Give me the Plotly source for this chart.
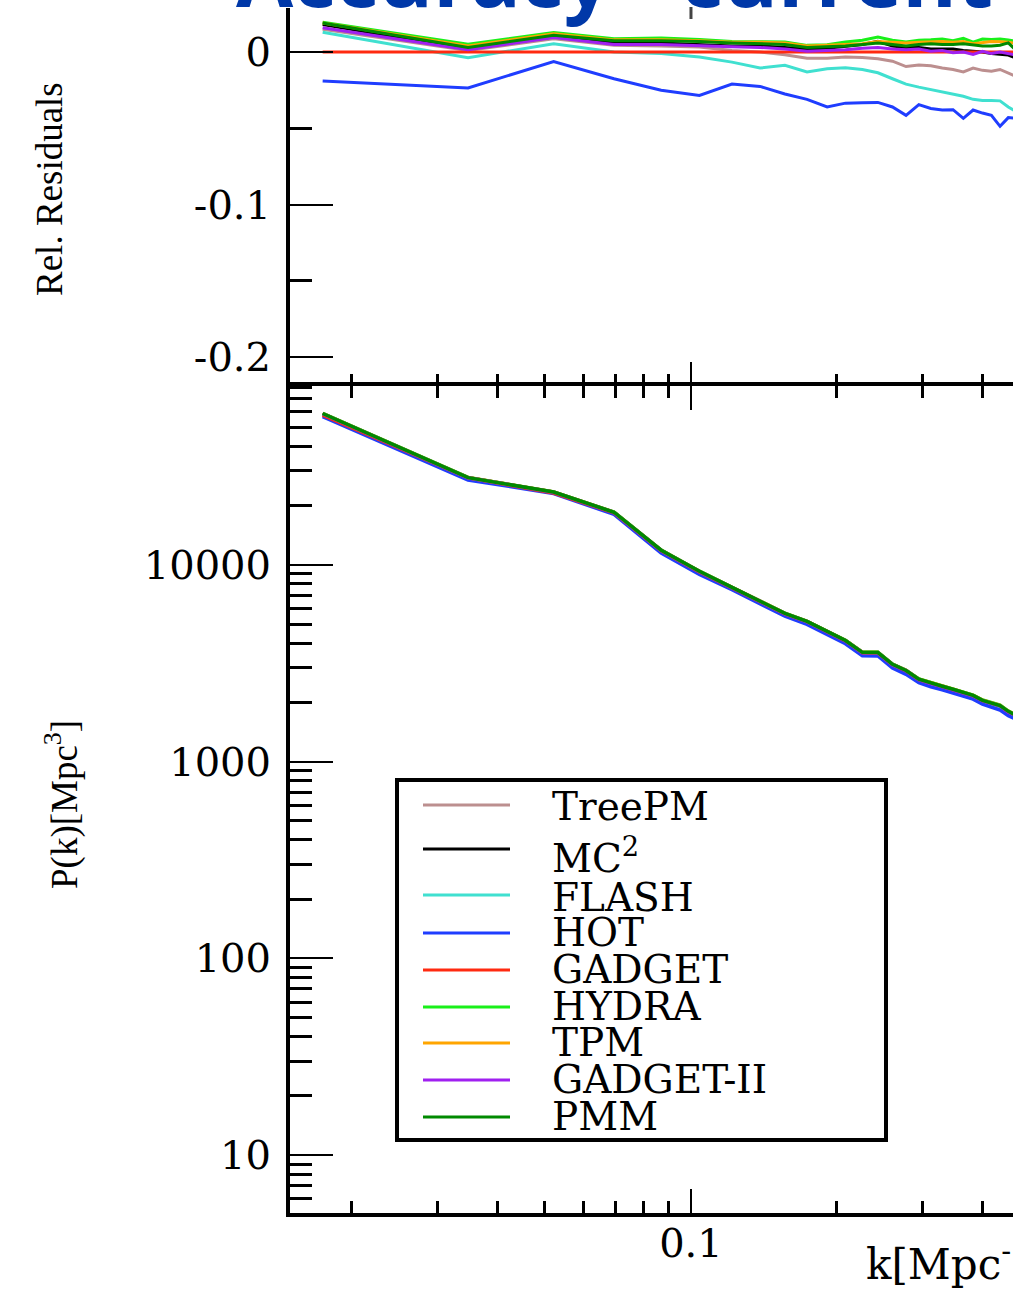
import math
import plotly.graph_objects as go

# ---------------- data ----------------
k_vals = [0.0174, 0.0347, 0.0521, 0.0694, 0.0868, 0.1041, 0.1215, 0.1388, 0.1562,
          0.1735, 0.1909, 0.2082, 0.2256, 0.2429, 0.2603, 0.2776, 0.2950, 0.3123,
          0.3297, 0.3470, 0.3644, 0.3817, 0.3991, 0.4164, 0.4338, 0.4511, 0.4685]

pk_gadget = [57700, 27660, 23190, 18370, 11780, 9210, 7640, 6490, 5640, 5140, 4570,
             4110, 3575, 3560, 3105, 2895, 2610, 2490, 2405, 2320, 2240, 2160, 2040,
             1970, 1920, 1790, 1715]

res_treepm = [0.015, 0.001, 0.0087, 0.0044, 0.004, 0.0033, 0.001, 0.0, -0.0017, -0.004,
              -0.004, -0.0033, -0.0035, -0.0044, -0.006, -0.0095, -0.0085, -0.009, -0.0105,
              -0.0115, -0.013, -0.0105, -0.012, -0.0125, -0.0114, -0.0135, -0.016]
res_mc2 = [0.018, 0.002, 0.010, 0.006, 0.006, 0.005, 0.004, 0.004, 0.003, 0.002, 0.0025,
           0.004, 0.005, 0.007, 0.004, 0.003, 0.003, 0.002, 0.002, 0.002, 0.001, 0.0005,
           0.0, -0.001, -0.0015, -0.002, -0.004]
res_flash = [0.013, -0.0037, 0.0055, 0.0, -0.001, -0.0033, -0.0066, -0.0105, -0.0087,
             -0.013, -0.011, -0.0103, -0.0114, -0.0136, -0.0175, -0.021, -0.023, -0.0245,
             -0.026, -0.0275, -0.029, -0.031, -0.0317, -0.0317, -0.032, -0.036, -0.039]
res_hot = [-0.019, -0.0236, -0.0062, -0.0175, -0.025, -0.0285, -0.021, -0.0225, -0.0275,
           -0.031, -0.036, -0.0335, -0.0333, -0.033, -0.036, -0.0415, -0.0345, -0.037,
           -0.038, -0.0378, -0.0435, -0.038, -0.040, -0.0415, -0.0487, -0.043, -0.0435]
res_gadget = [0.0, 0.0, 0.0, 0.0, 0.0, 0.0, 0.0, 0.0, 0.0, 0.0, 0.0, 0.0, 0.0, 0.0,
              0.0, 0.0, 0.0, 0.0, 0.0, 0.0, 0.0, 0.0, 0.0, 0.0, 0.0, 0.0, 0.0]
res_hydra = [0.0195, 0.0052, 0.0128, 0.0088, 0.0092, 0.0083, 0.007, 0.007, 0.0066, 0.0044,
             0.0048, 0.0066, 0.0077, 0.0098, 0.0077, 0.0066, 0.0077, 0.008, 0.0085, 0.0075,
             0.009, 0.0065, 0.0085, 0.0082, 0.0085, 0.008, 0.007]
res_tpm = [0.019, 0.004, 0.012, 0.008, 0.008, 0.0075, 0.0065, 0.0065, 0.006, 0.004, 0.0045,
           0.005, 0.0055, 0.007, 0.0065, 0.006, 0.0065, 0.007, 0.007, 0.0065, 0.007, 0.0055,
           0.0065, 0.007, 0.0068, 0.0065, 0.0055]
res_gadget2 = [0.016, 0.0015, 0.0095, 0.005, 0.005, 0.004, 0.0035, 0.003, 0.002, 0.0005,
               0.001, 0.0015, 0.0025, 0.003, 0.002, 0.0015, 0.002, 0.0005, 0.001, -0.0005,
               0.0, -0.0015, 0.0005, -0.001, 0.0, -0.001, -0.002]
res_pmm = [0.019, 0.003, 0.011, 0.0075, 0.0075, 0.007, 0.006, 0.0055, 0.005, 0.003, 0.0035,
           0.004, 0.005, 0.006, 0.005, 0.004, 0.005, 0.0055, 0.005, 0.005, 0.0055, 0.0045,
           0.004, 0.004, 0.0045, 0.006, 0.001]

code_names = ["TreePM", "MC2", "FLASH", "HOT", "GADGET", "HYDRA", "TPM", "GADGET-II", "PMM"]
legend_labels = ["TreePM", "MC<sup>2</sup>", "FLASH", "HOT", "GADGET", "HYDRA", "TPM",
                 "GADGET-II", "PMM"]
residuals = [res_treepm, res_mc2, res_flash, res_hot, res_gadget, res_hydra, res_tpm,
             res_gadget2, res_pmm]
colors = ["#bc8f8f", "#000000", "#40e0d0", "#1f3dff", "#ff2a10", "#19f019", "#ffa500",
          "#a020f0", "#008a00"]

y_tick_vals_top = [0, -0.1, -0.2]
y_tick_text_top = ["0", "-0.1", "-0.2"]
y_minor_top = [-0.05, -0.15]
y_tick_vals_bot = [10, 100, 1000, 10000]
y_tick_text_bot = ["10", "100", "1000", "10000"]
y_minor_bot = [6, 7, 8, 9, 20, 30, 40, 50, 60, 70, 80, 90, 200, 300, 400, 500, 600, 700,
               800, 900, 2000, 3000, 4000, 5000, 6000, 7000, 8000, 9000, 20000, 30000,
               40000, 50000, 60000, 70000, 80000]
x_tick_vals = [0.1]
x_tick_text = ["0.1"]
x_minor = [0.02, 0.03, 0.04, 0.05, 0.06, 0.07, 0.08, 0.09, 0.2, 0.3, 0.4]

# ---------------- geometry ----------------
W, H = 1013, 1290
def px_x(p):
    return p / W
def px_y(p):
    return 1 - p / H

x_dom = [px_x(290), 1.0]
x_range = [-1.8268, -0.336]
ybot_dom = [px_y(1213), px_y(386)]
ytop_dom = [px_y(386), px_y(8)]

serif_tick = dict(family="DejaVu Serif", size=40, color="black")

fig = go.Figure()

for name, res, col in zip(code_names, residuals, colors):
    pk = [p * (1 + r) for p, r in zip(pk_gadget, res)]
    fig.add_trace(go.Scatter(x=k_vals, y=pk, mode="lines", name=name,
                             line=dict(color=col, width=3.5), xaxis="x", yaxis="y",
                             showlegend=False))
for name, res, col in zip(code_names, residuals, colors):
    fig.add_trace(go.Scatter(x=k_vals, y=res, mode="lines", name=name,
                             line=dict(color=col, width=3), xaxis="x2", yaxis="y2",
                             showlegend=False))

common_x = dict(type="log", range=x_range, domain=x_dom, linewidth=4,
                linecolor="black", ticks="inside", ticklen=24, tickwidth=2,
                tickcolor="black", tickvals=x_tick_vals, ticktext=x_tick_text,
                showgrid=False, zeroline=False,
                minor=dict(tickvals=x_minor, ticks="inside", ticklen=12, tickwidth=2.5,
                           tickcolor="black", showgrid=False))

fig.update_layout(
    width=W, height=H,
    margin=dict(l=0, r=0, t=0, b=0),
    paper_bgcolor="white", plot_bgcolor="white",
    showlegend=False,
    xaxis=dict(common_x, anchor="y", showline=True, mirror="ticks", tickfont=serif_tick,
               ticklabelstandoff=-8),
    xaxis2=dict(common_x, anchor="y2", matches="x", showline=False, showticklabels=False),
    yaxis=dict(type="log", range=[math.log10(5.08), 4.909], domain=ybot_dom, anchor="x",
               showline=True, linewidth=4, linecolor="black", ticks="inside", ticklen=43,
               tickwidth=2, tickcolor="black", tickvals=y_tick_vals_bot,
               ticktext=y_tick_text_bot, tickfont=serif_tick, ticklabelstandoff=7,
               showgrid=False, zeroline=False,
               minor=dict(tickvals=y_minor_bot, ticks="inside", ticklen=22, tickwidth=3,
                          tickcolor="black", showgrid=False)),
    yaxis2=dict(range=[-0.219, 0.0289], domain=ytop_dom, anchor="x2",
                showline=True, linewidth=4, linecolor="black", ticks="inside", ticklen=43,
                tickwidth=2, tickcolor="black", tickvals=y_tick_vals_top,
                ticktext=y_tick_text_top, tickfont=serif_tick, ticklabelstandoff=7,
                showgrid=False, zeroline=False,
                minor=dict(tickvals=y_minor_top, ticks="inside", ticklen=22, tickwidth=3,
                           tickcolor="black", showgrid=False)),
)

shapes = []
annotations = []

# small mirrored tick of the upper panel at k = 0.1 (partly hidden by the title)
tick_xp = x_dom[0] + (math.log10(0.1) - x_range[0]) / (x_range[1] - x_range[0]) * (x_dom[1] - x_dom[0])
shapes.append(dict(type="line", xref="paper", yref="paper", x0=tick_xp, x1=tick_xp,
                   y0=px_y(7), y1=px_y(19), line=dict(color="#444", width=3)))

# legend box
shapes.append(dict(type="rect", xref="paper", yref="paper", x0=px_x(397), x1=px_x(886),
                   y0=px_y(1140), y1=px_y(780), line=dict(color="black", width=4),
                   fillcolor="white", layer="above"))
row_line_y = [805, 849, 895, 933, 970, 1007, 1043, 1080, 1117]
row_text_y = [806, 856, 897, 932, 969, 1006, 1042, 1079, 1116]
for lab, col, ly, ty in zip(legend_labels, colors, row_line_y, row_text_y):
    shapes.append(dict(type="line", xref="paper", yref="paper", x0=px_x(423), x1=px_x(510),
                       y0=px_y(ly), y1=px_y(ly), line=dict(color=col, width=3), layer="above"))
    annotations.append(dict(text=lab, xref="paper", yref="paper", x=px_x(550), y=px_y(ty),
                            xanchor="left", yanchor="middle", showarrow=False,
                            font=dict(family="DejaVu Serif", size=39, color="black")))

# axis titles
annotations.append(dict(text="Rel. Residuals", xref="paper", yref="paper", x=px_x(50),
                        y=px_y(189), textangle=-90, showarrow=False, xanchor="center",
                        yanchor="middle",
                        font=dict(family="Liberation Serif", size=37, color="black")))
annotations.append(dict(text="P(k)[Mpc<sup>3</sup>]", xref="paper", yref="paper", x=px_x(62),
                        y=px_y(805), textangle=-90, showarrow=False, xanchor="center",
                        yanchor="middle",
                        font=dict(family="Liberation Serif", size=37, color="black")))
annotations.append(dict(text="k[Mpc<sup>-1</sup>]", xref="paper", yref="paper", x=px_x(864),
                        y=px_y(1261), showarrow=False, xanchor="left", yanchor="middle",
                        font=dict(family="DejaVu Serif", size=42, color="black")))

# title (cut off at the top of the picture)
annotations.append(dict(text="<b>Accuracy - current status</b>", xref="paper", yref="paper",
                        x=px_x(234), y=px_y(33), xanchor="left", yanchor="bottom",
                        showarrow=False,
                        font=dict(family="Open Sans", size=83, color="#0038a8")))

fig.update_layout(shapes=shapes, annotations=annotations)

fig.write_html("out.html",
               config={"displayModeBar": False},
               post_script="document.body.style.margin='0';"
                           "document.body.style.overflow='hidden';")
